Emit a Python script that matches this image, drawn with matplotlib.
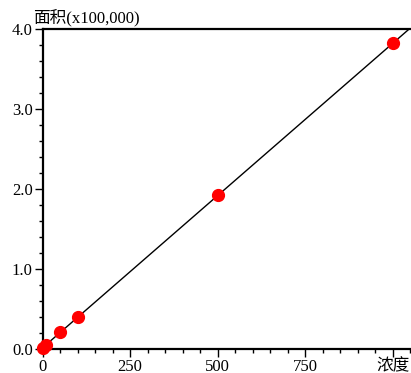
import numpy as np
import matplotlib
matplotlib.use("Agg")
import matplotlib.pyplot as plt
from matplotlib.ticker import MultipleLocator, FixedLocator, FixedFormatter

plt.rcParams['font.family'] = ['Liberation Serif', 'Noto Sans CJK SC']

# concentration vs peak area (x100,000)
conc = [1, 10, 50, 100, 500, 1000]
area = [0.01, 0.05, 0.21, 0.40, 1.92, 3.82]
x_ticks = [0, 250, 500, 750, 1000]
x_labels = ["0", "250", "500", "750", "浓度"]
y_ticks = [0.0, 1.0, 2.0, 3.0, 4.0]

fig = plt.figure(figsize=(4.11, 3.73), dpi=100)
ax = fig.add_axes([42.5/411, 1 - 349/373, 1 - 42.5/411, 320/373])

# regression line across the whole axis
k, b = np.polyfit(conc, area, 1)
xl = np.array([0, 1052])
ax.plot(xl, k*xl + b, color="black", lw=1.0)

ax.plot(conc, area, "o", color="red", markersize=8.5, clip_on=False, zorder=3)

ax.set_xlim(0, 1052)
ax.set_ylim(0, 4.0)

ax.xaxis.set_major_locator(FixedLocator(x_ticks))
ax.xaxis.set_major_formatter(FixedFormatter(x_labels))
ax.xaxis.set_minor_locator(MultipleLocator(50))
ax.set_yticks(y_ticks)
ax.set_yticklabels([f"{v:.1f}" for v in y_ticks])
ax.yaxis.set_minor_locator(MultipleLocator(0.2))

ax.tick_params(which="major", direction="out", length=6, width=1, labelsize=12, pad=1)
ax.tick_params(which="minor", direction="out", length=3, width=1)

ax.spines["right"].set_visible(False)
for s in ["left", "bottom", "top"]:
    ax.spines[s].set_linewidth(1.6)

fig.text(33/411, 1 - 18/373, "面积(x100,000)", fontsize=12, va="center", ha="left")

fig.savefig("out.png", dpi=100)
